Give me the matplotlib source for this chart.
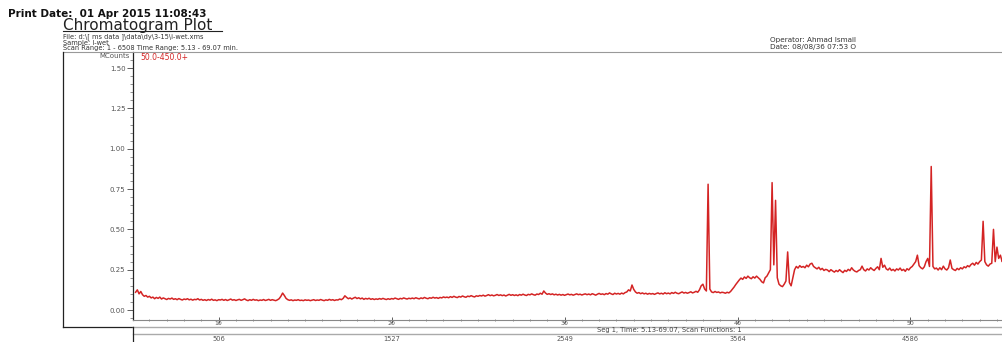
import numpy as np
import matplotlib
matplotlib.use("Agg")
import matplotlib.pyplot as plt
from matplotlib.lines import Line2D
from matplotlib.ticker import MultipleLocator, FormatStrFormatter
from matplotlib.transforms import blended_transform_factory

plt.rcParams['font.family'] = ['DejaVu Sans']

# Total ion current, MCounts, sampled every 0.1 min starting at 5.2 min
t_start = 5.2
t_step = 0.1
counts = [
    0.11, 0.125, 0.10, 0.115, 0.095, 0.085, 0.09, 0.08, 0.085, 0.075, 0.08, 0.07, 0.078, 0.072, 0.08, 0.068, 0.075, 0.07, 0.065, 0.072,
    0.068, 0.074, 0.066, 0.07, 0.064, 0.071, 0.066, 0.062, 0.068, 0.065, 0.07, 0.063, 0.067, 0.061, 0.066, 0.064, 0.07, 0.062, 0.066, 0.06,
    0.064, 0.059, 0.065, 0.061, 0.067, 0.06, 0.063, 0.058, 0.064, 0.062, 0.066, 0.06, 0.065, 0.059, 0.063, 0.068, 0.061, 0.064, 0.059, 0.063,
    0.066, 0.06, 0.064, 0.069, 0.062, 0.058, 0.064, 0.06, 0.066, 0.061, 0.063, 0.058, 0.062, 0.06, 0.065, 0.059, 0.062, 0.066, 0.06, 0.064,
    0.061, 0.058, 0.063, 0.07, 0.085, 0.105, 0.09, 0.072, 0.064, 0.06, 0.063, 0.058, 0.062, 0.06, 0.064, 0.059, 0.061, 0.058, 0.063, 0.06,
    0.062, 0.058, 0.061, 0.064, 0.059, 0.062, 0.06, 0.065, 0.061, 0.058, 0.063, 0.06, 0.066, 0.061, 0.064, 0.059, 0.063, 0.062, 0.068, 0.064,
    0.072, 0.088, 0.078, 0.07, 0.075, 0.068, 0.074, 0.079, 0.071, 0.076, 0.069, 0.074, 0.066, 0.072, 0.068, 0.073, 0.066, 0.07, 0.065, 0.069,
    0.066, 0.071, 0.067, 0.072, 0.068, 0.065, 0.07, 0.066, 0.071, 0.068, 0.074, 0.07, 0.066, 0.072, 0.069, 0.075, 0.071, 0.068, 0.073, 0.07,
    0.074, 0.07, 0.076, 0.072, 0.069, 0.075, 0.071, 0.078, 0.073, 0.07, 0.076, 0.073, 0.079, 0.074, 0.077, 0.072, 0.078, 0.075, 0.081, 0.077,
    0.08, 0.076, 0.083, 0.078, 0.085, 0.08, 0.077, 0.084, 0.08, 0.087, 0.082, 0.079, 0.086, 0.083, 0.089, 0.084, 0.081, 0.088, 0.085, 0.09,
    0.087, 0.092, 0.086, 0.09, 0.095, 0.089, 0.093, 0.088, 0.091, 0.096, 0.09, 0.094, 0.089, 0.093, 0.087, 0.092, 0.097, 0.091, 0.095, 0.09,
    0.094, 0.089, 0.096, 0.092, 0.098, 0.093, 0.09, 0.097, 0.094, 0.1, 0.095, 0.092, 0.099, 0.096, 0.104, 0.098, 0.118, 0.105, 0.097, 0.101,
    0.096, 0.1, 0.094, 0.098, 0.093, 0.097, 0.092, 0.096, 0.091, 0.095, 0.099, 0.094, 0.097, 0.092, 0.096, 0.1, 0.095, 0.098, 0.093, 0.097,
    0.1, 0.095, 0.099, 0.094, 0.101, 0.097, 0.092, 0.098, 0.103, 0.097, 0.1, 0.095, 0.102, 0.098, 0.106, 0.1, 0.096, 0.104, 0.099, 0.103,
    0.098, 0.105, 0.1, 0.108, 0.112, 0.125, 0.118, 0.155, 0.128, 0.112, 0.104, 0.108, 0.101, 0.106, 0.1, 0.104, 0.098, 0.103, 0.099, 0.102,
    0.097, 0.102, 0.106, 0.1, 0.104, 0.099, 0.107, 0.101, 0.105, 0.1, 0.108, 0.103, 0.11, 0.104, 0.101, 0.107, 0.112, 0.105, 0.109, 0.104,
    0.108, 0.113, 0.106, 0.11, 0.116, 0.11, 0.125, 0.15, 0.16, 0.13, 0.118, 0.78, 0.13, 0.112, 0.108, 0.115, 0.109, 0.112, 0.106, 0.11,
    0.108, 0.104, 0.11, 0.106, 0.115, 0.128, 0.142, 0.158, 0.172, 0.186, 0.198, 0.19, 0.205, 0.196, 0.21, 0.2, 0.194, 0.206, 0.198, 0.21,
    0.2, 0.19, 0.175, 0.168, 0.2, 0.21, 0.23, 0.25, 0.79, 0.28, 0.68, 0.2, 0.16, 0.15, 0.145, 0.16, 0.18, 0.36, 0.17, 0.15,
    0.2, 0.25, 0.27, 0.26, 0.275, 0.265, 0.27, 0.262, 0.278, 0.268, 0.285, 0.29, 0.27, 0.262, 0.255, 0.265, 0.25, 0.258, 0.245, 0.252,
    0.248, 0.238, 0.25, 0.242, 0.235, 0.245, 0.238, 0.25, 0.24, 0.232, 0.246, 0.239, 0.252, 0.244, 0.262, 0.248, 0.24, 0.236, 0.245, 0.25,
    0.272, 0.25, 0.242, 0.255, 0.248, 0.262, 0.252, 0.245, 0.258, 0.268, 0.25, 0.32, 0.265, 0.278, 0.255, 0.248, 0.26, 0.245, 0.252, 0.242,
    0.255, 0.248, 0.26, 0.245, 0.252, 0.24, 0.256, 0.248, 0.262, 0.27, 0.285, 0.3, 0.34, 0.275, 0.262, 0.255, 0.268, 0.3, 0.32, 0.27,
    0.89, 0.27, 0.255, 0.26, 0.248, 0.262, 0.25, 0.272, 0.255, 0.248, 0.262, 0.31, 0.258, 0.25, 0.245, 0.258, 0.25, 0.262, 0.255, 0.268,
    0.262, 0.275, 0.268, 0.282, 0.29, 0.278, 0.295, 0.285, 0.3, 0.31, 0.55, 0.3, 0.28, 0.272, 0.285, 0.29, 0.5, 0.3, 0.39, 0.32,
    0.34, 0.3, 0.32, 0.31,
]
times = t_start + t_step * np.arange(len(counts))

# scan numbers shown under the time ticks
scan_ticks = [10, 20, 30, 40, 50]
scan_labels = ["506", "1527", "2549", "3564", "4586"]

W, H = 1003, 342
fig = plt.figure(figsize=(W / 100, H / 100), dpi=100)


def fx(x):
    return x / W


def fy(y):
    return 1 - y / H


ax = fig.add_axes([fx(133), fy(320), fx(1003) - fx(133), fy(52) - fy(320)])
ax.plot(times, counts, color="#d42424", lw=1.1)
ax.set_xlim(5.05, 55.35)
ax.set_ylim(-0.062, 1.60)

for s in ["top", "right"]:
    ax.spines[s].set_visible(False)
ax.spines["left"].set_color("#222222")
ax.spines["left"].set_linewidth(0.9)
ax.spines["bottom"].set_color("#888888")
ax.spines["bottom"].set_linewidth(0.8)

ax.yaxis.set_major_locator(MultipleLocator(0.25))
ax.yaxis.set_minor_locator(MultipleLocator(0.05))
ax.yaxis.set_major_formatter(FormatStrFormatter("%.2f"))
ax.xaxis.set_major_locator(MultipleLocator(10))
ax.xaxis.set_minor_locator(MultipleLocator(1))
ax.tick_params(axis="y", which="major", length=4, width=0.6, color="#444444",
               labelsize=5, labelcolor="#555555", pad=1.5)
ax.tick_params(axis="y", which="minor", length=2, width=0.5, color="#666666")
ax.tick_params(axis="x", which="major", direction="inout", length=4, width=0.6,
               color="#444444", labelsize=4.5, labelcolor="#555555", pad=-1.5)
ax.tick_params(axis="x", which="minor", direction="inout", length=2, width=0.5,
               color="#666666")

# page header
fig.text(fx(8), fy(14), "Print Date:  01 Apr 2015 11:08:43", fontsize=7.5,
         fontweight="bold", va="center", color="#111111")
fig.text(fx(63), fy(25.5), "Chromatogram Plot", fontsize=11, va="center",
         color="#222222")
fig.add_artist(Line2D([fx(63), fx(222)], [fy(31), fy(31)], color="#222222", lw=0.8))
fig.text(fx(63), fy(37), "File: d:\\[ ms data ]\\data\\dy\\3-15\\i-wet.xms",
         fontsize=4.8, va="center", color="#333333")
fig.text(fx(63), fy(42.5), "Sample: I-wet", fontsize=4.8, va="center", color="#333333")
fig.text(fx(63), fy(48), "Scan Range: 1 - 6508 Time Range: 5.13 - 69.07 min.",
         fontsize=4.8, va="center", color="#333333")
fig.text(fx(770), fy(40), "Operator: Ahmad Ismail", fontsize=5.2, va="center",
         color="#333333")
fig.text(fx(770), fy(46.5), "Date: 08/08/36 07:53 O", fontsize=5.2, va="center",
         color="#333333")

# frame around the plot area
fig.add_artist(Line2D([fx(63), fx(1003)], [fy(51.5), fy(51.5)], color="#999999", lw=0.8))
fig.add_artist(Line2D([fx(63), fx(63)], [fy(51.5), fy(327)], color="#222222", lw=0.9))
fig.add_artist(Line2D([fx(63), fx(133)], [fy(327), fy(327)], color="#222222", lw=0.9))
fig.text(fx(130), fy(55.5), "MCounts", fontsize=5, ha="right", va="center",
         color="#555555")
fig.text(fx(140), fy(57.5), "50.0-450.0+", fontsize=5.5, va="center", color="#d42424")

# scan number strip below the time axis
fig.add_artist(Line2D([fx(133), fx(1003)], [fy(326.5), fy(326.5)], color="#aaaaaa", lw=1.0))
fig.add_artist(Line2D([fx(133), fx(1003)], [fy(334), fy(334)], color="#aaaaaa", lw=1.0))
fig.add_artist(Line2D([fx(133), fx(133)], [fy(327), fy(342)], color="#222222", lw=0.9))
fig.text(fx(597), fy(330.3), "Seg 1, Time: 5.13-69.07, Scan Functions: 1",
         fontsize=4.9, va="center", color="#444444")
trans = blended_transform_factory(ax.transData, fig.transFigure)
for t, lab in zip(scan_ticks, scan_labels):
    fig.text(t, fy(339), lab, transform=trans, fontsize=4.8, ha="center",
             va="center", color="#555555")

fig.savefig("out.png", dpi=100)
